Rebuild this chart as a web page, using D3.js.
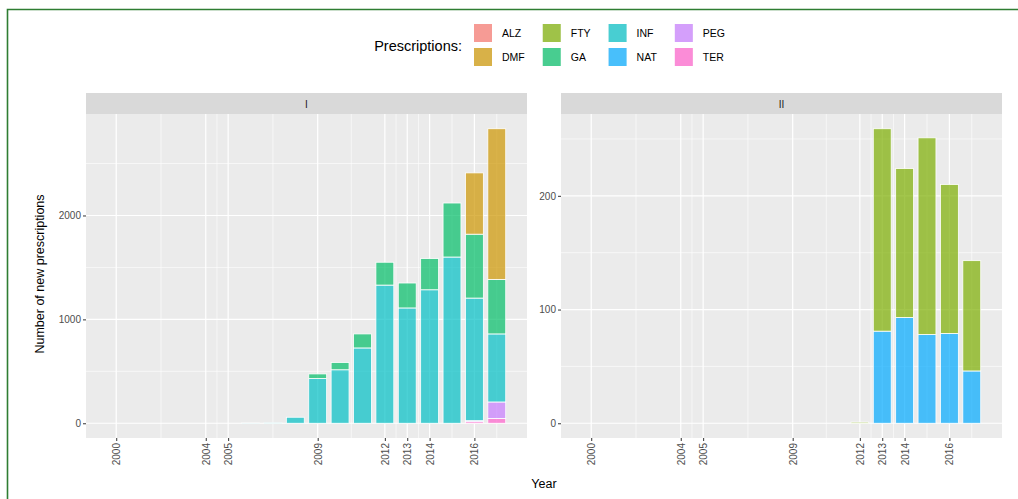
<!DOCTYPE html>
<head>
  <script src="https://d3js.org/d3.v7.min.js"></script>
  <style>
    body { margin: 0; overflow: hidden; background: #fff; }
    text { font-family: "Liberation Sans", Arial, sans-serif; }
  </style>
</head>
<body>
  <svg width="1018" height="499"></svg>
  <script>
    // stacked bars of new prescriptions per year, two facets (I, II)
    const years = [2006, 2007, 2008, 2009, 2010, 2011, 2012, 2013, 2014, 2015, 2016, 2017];
    const drugs = ['ALZ', 'DMF', 'FTY', 'GA', 'INF', 'NAT', 'PEG', 'TER'];
    const drugColors = ['#F8766D', '#CD9600', '#7CAE00', '#00BE67', '#00BFC4', '#00A9FF', '#C77CFF', '#FF61CC'];
    const yearBreaks = [2000, 2004, 2005, 2009, 2012, 2013, 2014, 2016];

    // panel I
    const infI = [2, 4, 58, 430, 515, 725, 1330, 1110, 1285, 1600, 1180, 655];
    const gaI  = [0, 0, 0, 45, 70, 135, 220, 240, 300, 520, 615, 525];
    const dmfI = [0, 0, 0, 0, 0, 0, 0, 0, 0, 0, 590, 1450];
    const pegI = [0, 0, 0, 0, 0, 0, 0, 0, 0, 0, 10, 160];
    const terI = [0, 0, 0, 0, 0, 0, 0, 0, 0, 0, 15, 45];
    const ticksI = [0, 1000, 2000];

    // panel II
    const ftyII = [0, 0, 0, 0, 0, 0, 1, 178, 131, 173, 131, 97];
    const natII = [0, 0, 0, 0, 0, 0, 0, 81, 93, 78, 79, 46];
    const ticksII = [0, 100, 200];

    const svg = d3.select('svg');
    const color = d3.scaleOrdinal().domain(drugs).range(drugColors);
    const font = '"Liberation Sans", Arial, sans-serif';

    // figure frame (only top/left visible)
    svg.append('path')
      .attr('d', 'M7.5,1100 V9.5 H1100')
      .attr('fill', 'none').attr('stroke', '#2e7d32').attr('stroke-width', 1.6);

    const toRows = series => years.map((yr, i) => {
      const row = { year: yr };
      drugs.forEach(k => { row[k] = series[k] ? series[k][i] : 0; });
      return row;
    });

    const panels = [
      { label: 'I', left: 86, rows: toRows({ INF: infI, GA: gaI, DMF: dmfI, PEG: pegI, TER: terI }), ticks: ticksI },
      { label: 'II', left: 561, rows: toRows({ FTY: ftyII, NAT: natII }), ticks: ticksII }
    ];

    const panelW = 441, panelTop = 114, panelBottom = 438;
    const stack = d3.stack().keys(drugs.slice().reverse());

    panels.forEach(p => {
      const x = d3.scaleLinear().domain([1998.65, 2018.35]).range([p.left, p.left + panelW]);
      const maxV = d3.max(p.rows, r => d3.sum(drugs, k => r[k]));
      const y = d3.scaleLinear().domain([-0.05 * maxV, 1.05 * maxV]).range([panelBottom, panelTop]);
      const g = svg.append('g');

      g.append('rect').attr('x', p.left).attr('y', panelTop).attr('width', panelW).attr('height', panelBottom - panelTop)
        .attr('fill', '#EBEBEB');

      // minor grid
      const yMinor = p.ticks.map(t => t + (p.ticks[1] - p.ticks[0]) / 2).filter(t => y(t) > panelTop);
      const xMinor = [];
      const xb = [yearBreaks[0] - 4].concat(yearBreaks, [2018]);
      for (let i = 0; i < xb.length - 1; i++) xMinor.push((xb[i] + xb[i + 1]) / 2);
      g.selectAll('.ymin').data(yMinor).enter().append('line')
        .attr('x1', p.left).attr('x2', p.left + panelW).attr('y1', d => y(d)).attr('y2', d => y(d))
        .attr('stroke', '#fff').attr('stroke-width', 0.6);
      g.selectAll('.xmin').data(xMinor.filter(d => x(d) > p.left && x(d) < p.left + panelW)).enter().append('line')
        .attr('x1', d => x(d)).attr('x2', d => x(d)).attr('y1', panelTop).attr('y2', panelBottom)
        .attr('stroke', '#fff').attr('stroke-width', 0.6);
      // major grid
      g.selectAll('.ymaj').data(p.ticks).enter().append('line')
        .attr('x1', p.left).attr('x2', p.left + panelW).attr('y1', d => y(d)).attr('y2', d => y(d))
        .attr('stroke', '#fff').attr('stroke-width', 1.2);
      g.selectAll('.xmaj').data(yearBreaks).enter().append('line')
        .attr('x1', d => x(d)).attr('x2', d => x(d)).attr('y1', panelTop).attr('y2', panelBottom)
        .attr('stroke', '#fff').attr('stroke-width', 1.2);

      // bars
      const bw = x(2000.4) - x(2000);
      g.selectAll('.layer').data(stack(p.rows)).enter().append('g')
        .attr('fill', d => color(d.key)).attr('fill-opacity', 0.7)
        .selectAll('rect').data(d => d.filter(s => s[1] - s[0] > 0)).enter().append('rect')
          .attr('x', d => x(d.data.year) - bw)
          .attr('width', 2 * bw)
          .attr('y', d => y(d[1]))
          .attr('height', d => y(d[0]) - y(d[1]))
          .attr('stroke', '#fff').attr('stroke-width', 0.8);

      // strip
      g.append('rect').attr('x', p.left).attr('y', 93).attr('width', panelW).attr('height', panelTop - 93)
        .attr('fill', '#D9D9D9');
      g.append('text').attr('x', p.left + panelW / 2).attr('y', 107.5).attr('text-anchor', 'middle')
        .attr('font-size', 10).attr('fill', '#1A1A1A').text(p.label);

      // y axis
      const ya = g.append('g').attr('transform', `translate(${p.left},0)`)
        .call(d3.axisLeft(y).tickValues(p.ticks).tickFormat(d3.format('d')).tickSize(3).tickPadding(2));
      ya.select('.domain').remove();
      ya.selectAll('line').attr('stroke', '#333');
      ya.selectAll('text').attr('fill', '#4D4D4D').attr('font-size', 10).attr('font-family', font);

      // x axis
      const xa = g.append('g').attr('transform', `translate(0,${panelBottom})`)
        .call(d3.axisBottom(x).tickValues(yearBreaks).tickFormat(d3.format('d')).tickSize(3));
      xa.select('.domain').remove();
      xa.selectAll('line').attr('stroke', '#333');
      xa.selectAll('text')
        .attr('fill', '#4D4D4D').attr('font-size', 10).attr('font-family', font)
        .attr('text-anchor', 'end').attr('dy', '0.35em')
        .attr('transform', 'rotate(-90)').attr('x', -5).attr('y', 0);
    });

    // axis titles
    svg.append('text').attr('x', 544).attr('y', 488).attr('text-anchor', 'middle')
      .attr('font-size', 12.5).attr('fill', '#000').text('Year');
    svg.append('text').attr('transform', 'translate(44,274) rotate(-90)').attr('text-anchor', 'middle')
      .attr('font-size', 12.5).attr('fill', '#000').text('Number of new prescriptions');

    // legend: columns sized by their labels
    const lg = svg.append('g');
    lg.append('text').attr('x', 462).attr('y', 51).attr('text-anchor', 'end')
      .attr('font-size', 14.5).attr('fill', '#000').text('Prescriptions:');
    let kx = 474;
    for (let col = 0; col < 4; col++) {
      let maxW = 0;
      [0, 1].forEach(row => {
        const d = drugs[col * 2 + row];
        const ky = 24 + row * 24;
        lg.append('rect').attr('x', kx).attr('y', ky).attr('width', 18).attr('height', 18)
          .attr('fill', '#F2F2F2');
        lg.append('rect').attr('x', kx).attr('y', ky).attr('width', 18).attr('height', 18)
          .attr('fill', color(d)).attr('fill-opacity', 0.7);
        const t = lg.append('text').attr('x', kx + 28).attr('y', ky + 13).attr('font-size', 10.5)
          .attr('fill', '#000').text(d);
        maxW = Math.max(maxW, t.node().getComputedTextLength());
      });
      kx += 28 + maxW + 18;
    }
  </script>
</body>
